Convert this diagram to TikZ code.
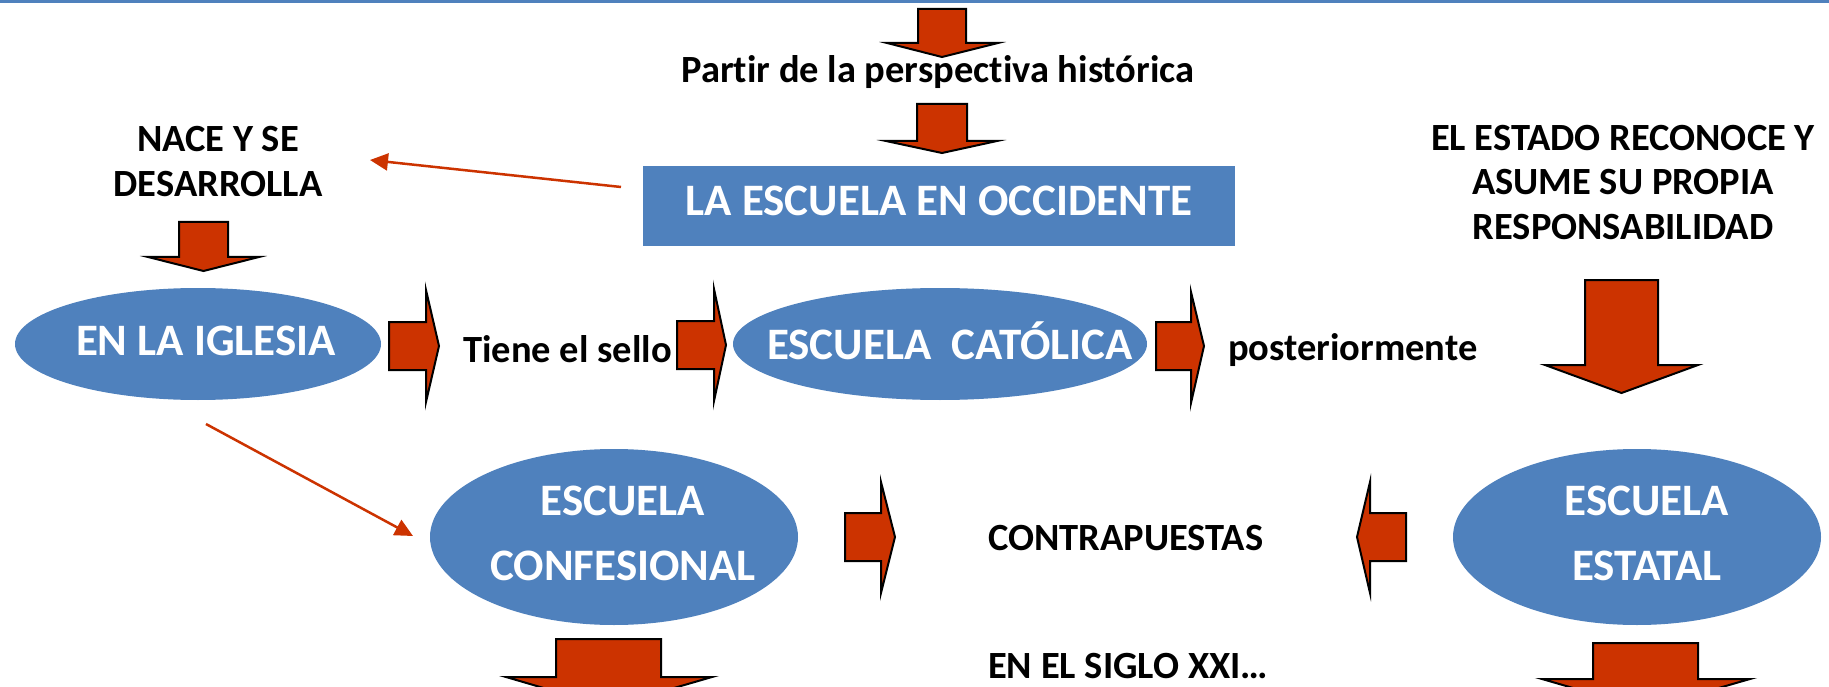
\documentclass[tikz,border=0pt]{standalone}
\usepackage{fontspec}
\setmainfont{Carlito}[Ligatures=NoCommon]
\usetikzlibrary{arrows.meta,shapes.geometric}
\definecolor{blu}{HTML}{4F81BD}
\definecolor{rd}{HTML}{CC3300}
% down block arrow: shaftL, shaftR, top, wingY, wingL, wingR, tipY
\newcommand\dnblk[7]{\draw[blk] (#1,#3) -- (#2,#3) -- (#2,#4) -- (#6,#4) -- ({(#1+#2)/2},#7) -- (#5,#4) -- (#1,#4) -- cycle;}
% horizontal block arrow: shaftEnd, notchX, tipX, shaftTop, shaftBot, headTop, headBot
\newcommand\rtblk[7]{\draw[blk] (#1,#4) -- (#2,#4) -- (#2,#6) -- (#3,{(#4+#5)/2}) -- (#2,#7) -- (#2,#5) -- (#1,#5) -- cycle;}
\begin{document}
\begin{tikzpicture}[x=1pt,y=-1pt,
  blk/.style={fill=rd,draw=black,line width=2pt,line join=miter},
  oval/.style 2 args={ellipse,fill=blu,inner sep=0pt,minimum width=#1pt,minimum height=#2pt},
  ovtxt/.style={text=white,inner sep=0pt,align=center,font=\bfseries\fontsize{45}{65}\selectfont},
  lbl/.style={font=\bfseries\fontsize{38.5}{44.5}\selectfont,text=black,inner sep=0pt,align=center},
  thinarr/.style={draw=rd,line width=2.5pt,-{Triangle[length=18pt,width=17pt]}}]
\useasboundingbox (0,0) rectangle (1829,687);
\fill[white] (0,0) rectangle (1829,687);
\draw[blu,line width=2.5pt] (0,1.5) -- (1829,1.5);

% top flow
\dnblk{918}{966}{9}{43}{887}{998}{57}
\node[lbl,anchor=base] (par) at (938,83) {Partir de la perspectiva histórica};
\dnblk{917}{967}{104}{141}{886}{997}{153}
\node[fill=blu,minimum width=592pt,minimum height=80pt,inner sep=0pt,text=white,
      text depth=10pt,font=\bfseries\fontsize{45}{52}\selectfont] (occ) at (939,206) {LA ESCUELA EN OCCIDENTE};

% left column
\node[lbl] (nace) at (218,161.5) {NACE Y SE\\DESARROLLA};
\coordinate (r1s) at (621,187);
\coordinate (r1e) at (370,160);
\draw[thinarr] (r1s) -- (r1e);
\dnblk{179}{228}{222}{257}{148}{259}{271}

% middle row
\node[oval={366}{112},label={[ovtxt,xshift=8pt,yshift=3pt]center:EN LA IGLESIA}] (igl) at (198,344) {};
\rtblk{389}{426}{439}{322}{370}{290}{402}
\node[lbl,anchor=base west] (tiene) at (463,362) {Tiene el sello};
\rtblk{677}{714}{726}{321}{369}{289}{401}
\node[oval={414}{112},label={[ovtxt,xshift=10pt,yshift=3pt]center:ESCUELA\ \ CATÓLICA}] (cat) at (940,344) {};
\rtblk{1156}{1191}{1204}{322}{370}{292}{403}
\node[lbl,anchor=base west] (post) at (1228,360) {posteriormente};

% right column
\node[lbl] (estado) at (1623,182.5) {EL ESTADO RECONOCE Y\\ASUME SU PROPIA\\RESPONSABILIDAD};
\dnblk{1585}{1658}{280}{365}{1545}{1698}{393}

% bottom row
\coordinate (r2s) at (206,424);
\coordinate (r2e) at (413,536);
\draw[thinarr] (r2s) -- (r2e);
\node[oval={368}{176},label={[ovtxt,xshift=9pt,yshift=3.5pt]center:ESCUELA\\CONFESIONAL}] (conf) at (614,537) {};
\rtblk{845}{881}{895}{513}{561}{482}{593}
\node[lbl,anchor=base west] (contra) at (988,550) {CONTRAPUESTAS};
\rtblk{1406}{1370}{1357}{513}{561}{482}{593}
\node[oval={368}{176},label={[ovtxt,xshift=10pt,yshift=3.5pt]center:ESCUELA\\ESTATAL}] (est) at (1637,537) {};
\node[lbl,anchor=base west] (siglo) at (988,678) {EN EL SIGLO XXI…};
\dnblk{556}{661}{639}{677}{506}{712}{707}
\dnblk{1593}{1698}{643}{679}{1542}{1750}{709}
\end{tikzpicture}
\end{document}
